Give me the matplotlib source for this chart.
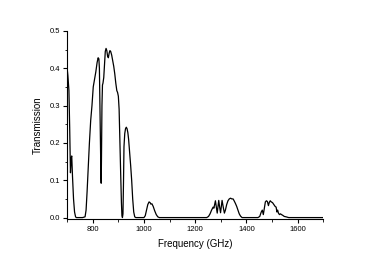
import matplotlib
matplotlib.use("Agg")
import matplotlib.pyplot as plt
from matplotlib.ticker import MultipleLocator, FormatStrFormatter

plt.rcParams['font.family'] = ['Liberation Sans', 'DejaVu Sans']

# transmission spectrum
freq = [700, 703, 707, 710, 713, 716, 718, 721, 725, 729, 733, 736, 740, 760,
        770, 774, 778, 782, 787, 792, 797, 802, 807, 812, 817, 821, 824, 826,
        828, 830, 832, 833, 834, 836, 838, 840, 843, 846, 849, 852, 855, 858,
        861, 864, 867, 870, 874, 878, 882, 886, 890, 894, 897, 900, 903, 906,
        909, 912, 914, 916, 918, 920, 922, 925, 928, 931, 934, 937, 940, 944,
        948, 952, 956, 960, 964, 968, 1000, 1005, 1010, 1015, 1020, 1024, 1027,
        1031, 1036, 1042, 1048, 1054, 1060, 1245, 1252, 1258, 1264, 1270, 1273,
        1276, 1279, 1282, 1286, 1289, 1292, 1295, 1299, 1302, 1305, 1309, 1314,
        1318, 1323, 1328, 1333, 1338, 1343, 1348, 1352, 1357, 1362, 1367, 1372,
        1377, 1383, 1445, 1452, 1458, 1462, 1466, 1470, 1474, 1478, 1482, 1486,
        1489, 1493, 1497, 1502, 1507, 1512, 1516, 1519, 1522, 1525, 1529, 1533,
        1537, 1542, 1548, 1555, 1565, 1700]
trans = [0.40, 0.38, 0.34, 0.24, 0.12, 0.16, 0.165, 0.11, 0.05, 0.015, 0.002,
         0.0, 0.0, 0.0, 0.002, 0.02, 0.07, 0.13, 0.20, 0.26, 0.30, 0.35, 0.37,
         0.39, 0.415, 0.428, 0.425, 0.40, 0.30, 0.18, 0.11, 0.092, 0.15, 0.30,
         0.355, 0.36, 0.375, 0.41, 0.445, 0.453, 0.447, 0.432, 0.428, 0.440,
         0.447, 0.445, 0.435, 0.42, 0.405, 0.385, 0.36, 0.34, 0.335, 0.325,
         0.29, 0.20, 0.12, 0.04, 0.005, 0.0, 0.01, 0.09, 0.19, 0.225, 0.238,
         0.242, 0.238, 0.228, 0.21, 0.175, 0.14, 0.10, 0.05, 0.015, 0.002, 0.0,
         0.0, 0.005, 0.02, 0.035, 0.042, 0.040, 0.036, 0.037, 0.03, 0.018,
         0.008, 0.002, 0.0, 0.0, 0.003, 0.01, 0.02, 0.028, 0.025, 0.035, 0.045,
         0.03, 0.012, 0.03, 0.046, 0.03, 0.013, 0.03, 0.046, 0.03, 0.012, 0.02,
         0.035, 0.045, 0.05, 0.052, 0.05, 0.05, 0.045, 0.038, 0.03, 0.02, 0.01,
         0.004, 0.0, 0.0, 0.003, 0.015, 0.02, 0.008, 0.025, 0.042, 0.045, 0.043,
         0.032, 0.04, 0.045, 0.042, 0.04, 0.035, 0.03, 0.028, 0.015, 0.02,
         0.012, 0.008, 0.01, 0.008, 0.006, 0.003, 0.002, 0.0, 0.0]

fig = plt.figure(figsize=(3.75, 2.66), dpi=100)
ax = fig.add_axes([0.179, 0.175, 0.683, 0.709])
ax.plot(freq, trans, color='black', linewidth=0.9)

ax.set_xlim(700, 1700)
ax.set_ylim(-0.005, 0.5)
ax.xaxis.set_major_locator(MultipleLocator(200))
ax.xaxis.set_minor_locator(MultipleLocator(100))
ax.yaxis.set_major_locator(MultipleLocator(0.1))
ax.yaxis.set_minor_locator(MultipleLocator(0.05))
ax.yaxis.set_major_formatter(FormatStrFormatter('%.1f'))

for s in ['top', 'right']:
    ax.spines[s].set_visible(False)
for s in ['left', 'bottom']:
    ax.spines[s].set_linewidth(0.8)

ax.tick_params(which='major', direction='out', length=3, width=0.8,
               labelsize=5.5, pad=2)
ax.tick_params(which='minor', direction='out', length=1.8, width=0.6)

ax.set_xlabel("Frequency (GHz)", fontsize=7, labelpad=4)
ax.set_ylabel("Transmission", fontsize=7, labelpad=5)

fig.savefig("out.png", dpi=100)
